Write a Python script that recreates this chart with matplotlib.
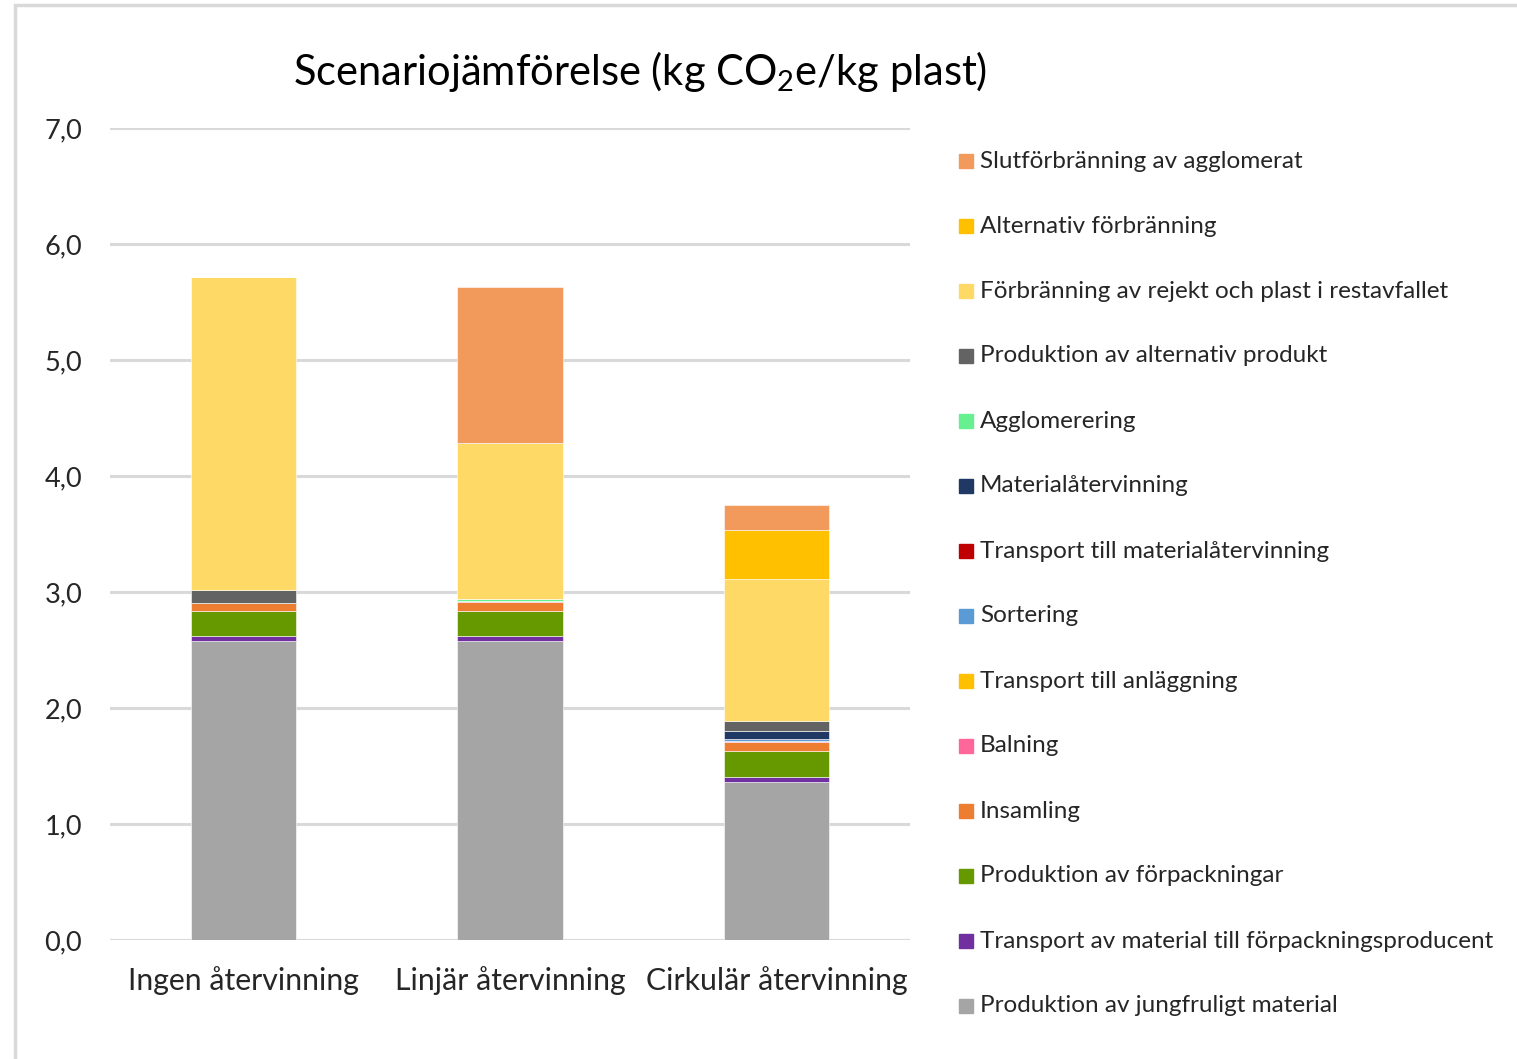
import matplotlib
matplotlib.use("Agg")
import matplotlib.pyplot as plt
from matplotlib.patches import Rectangle
from matplotlib.ticker import FuncFormatter

plt.rcParams['font.family'] = ['Lato', 'DejaVu Sans']
plt.rcParams['mathtext.fontset'] = 'custom'
plt.rcParams['mathtext.rm'] = 'Lato'

scenarios = ['Ingen återvinning', 'Linjär återvinning', 'Cirkulär återvinning']

# stacking order, bottom to top
components = [
    'Produktion av jungfruligt material',
    'Transport av material till förpackningsproducent',
    'Produktion av förpackningar',
    'Insamling',
    'Balning',
    'Transport till anläggning',
    'Sortering',
    'Transport till materialåtervinning',
    'Materialåtervinning',
    'Agglomerering',
    'Produktion av alternativ produkt',
    'Förbränning av rejekt och plast i restavfallet',
    'Alternativ förbränning',
    'Slutförbränning av agglomerat',
]
colors = ['#A5A5A5', '#7030A0', '#669900', '#ED7D31', '#FF6699', '#FFC000',
          '#5B9BD5', '#C00000', '#1F3864', '#66F08F', '#636363', '#FFD966',
          '#FFC000', '#F2995C']

jungfruligt = [2.58, 2.58, 1.365]
transport_material = [0.043, 0.043, 0.043]
forpackningar = [0.215, 0.215, 0.219]
insamling = [0.07, 0.078, 0.083]
balning = [0.0, 0.003, 0.003]
transport_anlaggning = [0.0, 0.003, 0.003]
sortering = [0.0, 0.004, 0.015]
transport_materialatervinning = [0.0, 0.0, 0.003]
materialatervinning = [0.0, 0.0, 0.069]
agglomerering = [0.0, 0.014, 0.0]
alternativ_produkt = [0.11, 0.0, 0.084]
forbranning_rejekt = [2.70, 1.345, 1.224]
alternativ_forbranning = [0.0, 0.0, 0.42]
slutforbranning = [0.0, 1.345, 0.22]

values = [jungfruligt, transport_material, forpackningar, insamling, balning,
          transport_anlaggning, sortering, transport_materialatervinning,
          materialatervinning, agglomerering, alternativ_produkt,
          forbranning_rejekt, alternativ_forbranning, slutforbranning]

W, H = 1517, 1059
fig = plt.figure(figsize=(W / 100, H / 100), dpi=100)
fig.patches.append(Rectangle((15 / W, -0.01), 1.1, 1 - 5 / H + 0.01,
                             transform=fig.transFigure, fill=False,
                             edgecolor='#D9D9D9', linewidth=2.5))
ax = fig.add_axes([110 / W, 1 - 940 / H, 800 / W, (940 - 128) / H])

x = range(len(scenarios))
bottom = [0.0] * len(scenarios)
for name, vals, c in zip(components, values, colors):
    ax.bar(x, vals, 0.395, bottom=bottom, color=c, label=name,
           edgecolor='white', linewidth=0.4, zorder=3)
    bottom = [b + v for b, v in zip(bottom, vals)]

ax.set_xlim(-0.5, 2.5)
ax.set_ylim(0, 7)
ax.set_yticks([i * 1.0 for i in range(8)])
ax.yaxis.set_major_formatter(FuncFormatter(lambda v, p: f'{v:.1f}'.replace('.', ',')))
ax.grid(axis='y', color='#D9D9D9', linewidth=2.2, zorder=0)
ax.set_axisbelow(True)
for s in ax.spines.values():
    s.set_visible(False)
ax.set_xticks(list(x))
ax.set_xticklabels(scenarios, fontsize=21.8, color='#262626')
ax.tick_params(axis='x', length=0, pad=19)
ax.tick_params(axis='y', length=0, pad=20, labelsize=19.5, labelcolor='#262626')
ax.axhline(0, color='#D9D9D9', linewidth=2.2, zorder=1)

fig.text(640 / W, 1 - 72 / H, 'Scenariojämförelse (kg CO$_2$e/kg plast)',
         ha='center', va='center', fontsize=30, color='#000000')

# legend, top to bottom in reverse of stacking order
for i, (name, c) in enumerate(zip(components[::-1], colors[::-1])):
    yc = 1 - (161 + 65 * i) / H
    fig.patches.append(Rectangle((959 / W, yc - 7 / H), 14 / W, 14 / H,
                                 transform=fig.transFigure, color=c))
    fig.text(980 / W, yc, name, ha='left', va='center', fontsize=17.5,
             color='#262626')

fig.savefig('out.png', dpi=100)
